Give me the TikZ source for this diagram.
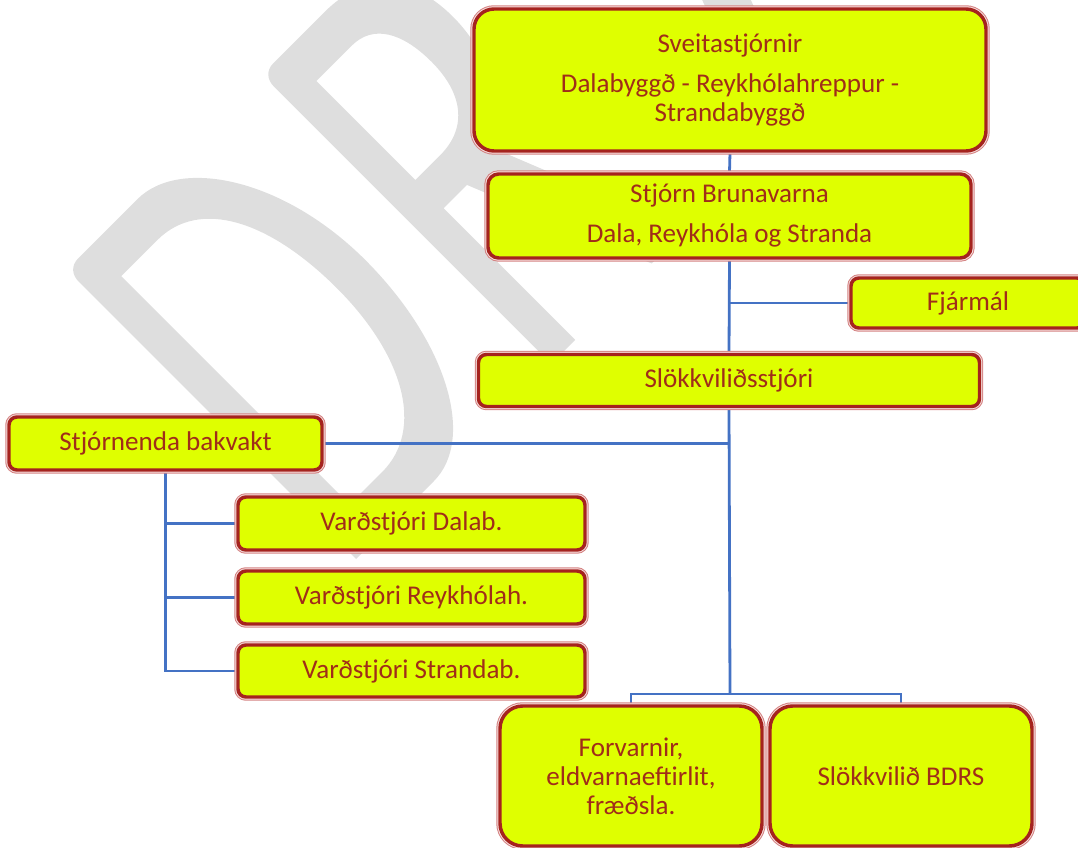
\documentclass[tikz,border=0pt]{standalone}
\usepackage{fontspec}
\setmainfont{Carlito}
\usetikzlibrary{calc}
\definecolor{boxfill}{RGB}{223,255,0}
\definecolor{boxred}{RGB}{165,35,30}
\definecolor{boxpink}{RGB}{212,130,130}
\definecolor{boxlight}{RGB}{246,222,222}
\definecolor{txtred}{RGB}{160,45,25}
\definecolor{linkblue}{RGB}{68,114,196}
\definecolor{wmgray}{RGB}{222,222,222}
\pgfdeclarelayer{bg}
\pgfsetlayers{bg,main}
\newcommand{\boxfont}{\fontsize{20.3pt}{21.75pt}\selectfont}
\tikzset{
  orgbox/.style={rectangle, inner sep=0pt, align=center, font=\boxfont,
    text=txtred, fill=boxfill, draw=boxred, line width=2.6pt,
    rounded corners=6pt,
    preaction={draw=boxpink, line width=5.6pt},
    preaction={draw=boxlight, line width=4.1pt}},
  link/.style={draw=linkblue, line width=2.1pt},
  wmletter/.style={fill=wmgray, draw=none, even odd rule}
}
\begin{document}
\begin{tikzpicture}[x=0.75pt, y=-0.75pt]
\useasboundingbox (0,0) rectangle (1078,848);
\clip (0,0) rectangle (1078,848);
% boxes
\node[orgbox, minimum width=384pt, minimum height=106.5pt, rounded corners=15pt]
  (top) at (730,80) {Sveitastjórnir\\[8.6pt]Dalabyggð - Reykhólahreppur -\\Strandabyggð};
\node[orgbox, minimum width=362.25pt, minimum height=63pt, rounded corners=8pt]
  (sbr) at (729.5,216) {Stjórn Brunavarna\\[8.25pt]Dala, Reykhóla og Stranda};
\node[orgbox, minimum width=175.5pt, minimum height=37.5pt]
  (fjarmal) at (968,303) {Fjármál};
\node[orgbox, minimum width=375.75pt, minimum height=39pt]
  (slokk) at (729,380.5) {Slökkviliðsstjóri};
\node[orgbox, minimum width=234.75pt, minimum height=39.75pt]
  (bakvakt) at (165.5,443.5) {Stjórnenda bakvakt};
\node[orgbox, minimum width=260.25pt, minimum height=39.75pt]
  (v1) at (411.5,523.5) {Varðstjóri Dalab.};
\node[orgbox, minimum width=260.25pt, minimum height=39.75pt]
  (v2) at (411.5,597.5) {Varðstjóri Reykhólah.};
\node[orgbox, minimum width=260.25pt, minimum height=39pt]
  (v3) at (411.5,671) {Varðstjóri Strandab.};
\node[orgbox, minimum width=196.5pt, minimum height=105pt, rounded corners=17pt]
  (forv) at (631,776) {Forvarnir,\\eldvarnaeftirlit,\\fræðsla.};
\node[orgbox, minimum width=196.5pt, minimum height=105pt, rounded corners=17pt]
  (bdrs) at (901,776) {Slökkvilið BDRS};
\coordinate (split) at (730,694);
\begin{pgfonlayer}{bg}
  \clip (0,0) rectangle (1078,848);
  % watermark letters, drawn in letter coordinates (x along baseline, y up)
  \begin{scope}[shift={(356,559)}, x={(0.53033pt,0.53033pt)}, y={(-0.53033pt,0.53033pt)}]
    % D
    \path[wmletter]
      (0,0) -- (0,392) .. controls (0,402) and (6,409) .. (16,409) -- (100,409)
        .. controls (160,409) and (218,320) .. (218,205)
        .. controls (218,90) and (170,0) .. (110,0) -- cycle
      (34,43) -- (34,366) -- (85,366)
        .. controls (145,366) and (178,300) .. (178,205)
        .. controls (178,110) and (140,43) .. (80,43) -- cycle;
    % R
    \path[wmletter]
      (276,0) -- (276,392) .. controls (276,402) and (282,409) .. (292,409) -- (365,409)
        .. controls (420,409) and (452,375) .. (452,315)
        .. controls (452,255) and (420,215) .. (385,200)
        -- (465,0) -- (418,0) -- (343,186) -- (310,186) -- (310,0) -- cycle
      (310,226) -- (310,366) -- (360,366)
        .. controls (390,366) and (405,340) .. (405,298)
        .. controls (405,255) and (385,226) .. (345,226) -- cycle;
    % A (left leg, the only part that shows)
    \path[wmletter] (585,0) -- (632,0) -- (782,410) -- (735,410) -- cycle;
  \end{scope}
  % connectors
  \draw[link] (top.south) -- (sbr.north);
  \draw[link] (sbr.south) -- (slokk.north);
  \draw[link] (fjarmal.west) -- (fjarmal.west -| sbr.south);
  \draw[link] (slokk.south) -- (split);
  \draw[link] (bakvakt.east) -- (bakvakt.east -| slokk.south);
  \draw[link] (forv.north) |- (split) -| (bdrs.north);
  \draw[link] (bakvakt.south) |- (v3.west);
  \draw[link] (v1.west) -- (v1.west -| bakvakt.south);
  \draw[link] (v2.west) -- (v2.west -| bakvakt.south);
\end{pgfonlayer}
\end{tikzpicture}
\end{document}
